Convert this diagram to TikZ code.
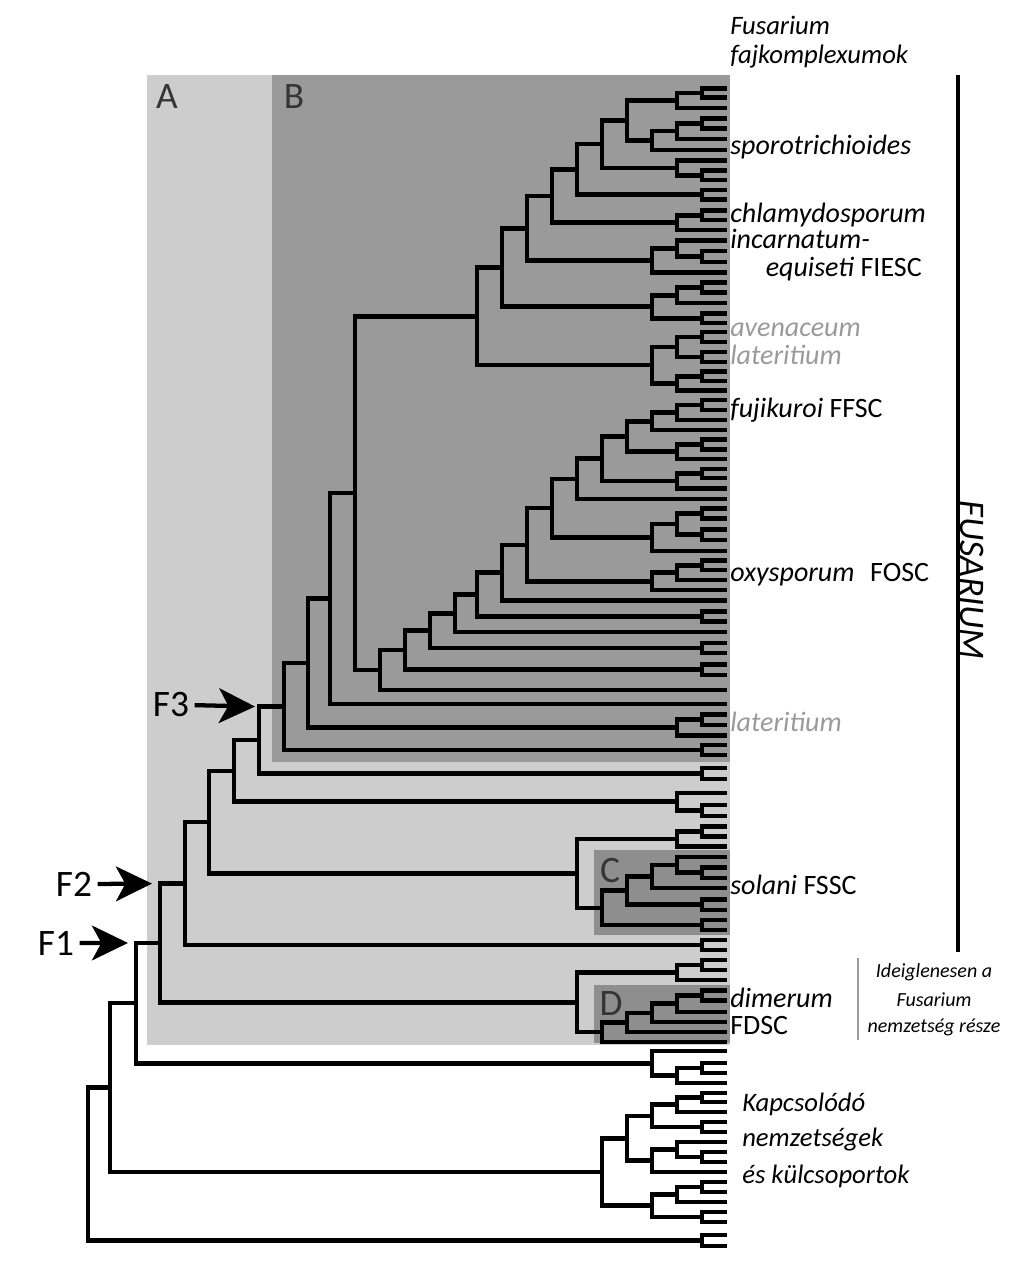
\documentclass[tikz,border=0pt]{standalone}
\usepackage{fontspec}
\setmainfont{Carlito}
\usetikzlibrary{calc, arrows.meta, positioning}
\definecolor{aback}{HTML}{CDCDCD}
\definecolor{bback}{HTML}{9A9A9A}
\definecolor{cback}{HTML}{8E8E8E}
\definecolor{letter}{HTML}{353535}
\definecolor{lgray}{HTML}{9A9A9A}

% bracket: name, x, upper child, lower child
\newcommand{\clade}[4]{%
	\coordinate (#1x) at (#2,0);
	\coordinate (#1m) at ($(#3)!0.5!(#4)$);
	\coordinate (#1) at (#1x |- #1m);
	\draw[branch] (#3) -| (#1) |- (#4);
}

\begin{document}
\begin{tikzpicture}[x=0.75pt, y=-0.75pt,
	branch/.style={line width=3.4pt},
	lab/.style={anchor=west, inner sep=0pt, font=\fontsize{21}{23}\selectfont},
	note/.style={anchor=west, inner sep=0pt, font=\fontsize{20}{22}\selectfont\itshape},
	small/.style={inner sep=0pt, font=\fontsize{15}{17}\selectfont\itshape},
	boxletter/.style={text=letter, inner sep=0pt, font=\fontsize{28}{30}\selectfont},
	flab/.style={inner sep=0pt, font=\fontsize{28}{30}\selectfont},
	farrow/.style={line width=3.2pt, shorten <=4pt, -{Stealth[length=27pt, width=26pt, inset=7pt]}}]
	\useasboundingbox (0,0) rectangle (1024,1270);
	
	% shaded groups
	\fill[aback] (147,75) rectangle (730,1045);
	\fill[bback] (272,75) rectangle (730,762);
	\fill[cback] (594,850) rectangle (730,935);
	\fill[cback] (594,985) rectangle (730,1043);
	
	% tips
	\foreach \y [count=\i] in {88.3,97.3,108,118.3,128.3,139,150,160.5,170.5,180,
		190,199.5,210.5,220,230,240.5,251,262,272.5,282.5,
		292.5,303,313.5,323,332,342,352,362,371.5,381,
		390.5,400,410,420,430,439.5,449.5,459,469,478,
		488.5,499,508.5,518.5,529.5,540,551,560.5,570,580,
		590,600.5,611.5,621.5,632,643,653,664.5,675,690,
		704,714.5,725,735.5,745,755,768,779,793,805,
		816,826.5,836.5,846.5,857,867.5,878,888,899.5,910,
		920,930,940,950,960,970,980,990.5,1000.5,1012,
		1022,1032,1042,1051,1063,1073,1083,1093,1102,1112,
		1122,1132,1142,1152,1162,1172,1182,1192,1202,1212,
		1222,1235,1246}{
		\coordinate (t\i) at (727,\y);
	}
	
	% sporotrichioides
	\clade{s1}{702}{t1}{t2}
	\clade{s2}{677}{s1}{t3}
	\clade{s3}{702}{t4}{t5}
	\clade{s4}{677}{s3}{t6}
	\clade{s5}{652}{s4}{t7}
	\clade{s6}{627}{s2}{s5}
	\clade{s7}{702}{t9}{t10}
	\clade{s8}{677}{t8}{s7}
	\clade{s9}{602}{s6}{s8}
	\clade{s10}{702}{t11}{t12}
	\clade{spo}{577}{s9}{s10}
	% chlamydosporum, incarnatum
	\clade{ch1}{702}{t13}{t14}
	\clade{chl}{677}{ch1}{t15}
	\clade{sc}{552}{spo}{chl}
	\clade{i1}{702}{t17}{t18}
	\clade{i2}{677}{t16}{i1}
	\clade{inc}{652}{i2}{t19}
	\clade{sci}{527}{sc}{inc}
	% avenaceum, lateritium
	\clade{a1}{702}{t20}{t21}
	\clade{a2}{677}{a1}{t22}
	\clade{a3}{702}{t23}{t24}
	\clade{ave}{652}{a2}{a3}
	\clade{scia}{502}{sci}{ave}
	\clade{l1}{702}{t25}{t26}
	\clade{l2}{702}{t27}{t28}
	\clade{l3}{677}{l1}{l2}
	\clade{l4}{702}{t29}{t30}
	\clade{l5}{677}{l4}{t31}
	\clade{lat}{652}{l3}{l5}
	\clade{top}{477}{scia}{lat}
	% fujikuroi
	\clade{f1}{702}{t32}{t33}
	\clade{f2}{677}{f1}{t34}
	\clade{f3}{652}{f2}{t35}
	\clade{f4}{702}{t36}{t37}
	\clade{f5}{677}{f4}{t38}
	\clade{fuj}{627}{f3}{f5}
	\clade{g1}{702}{t39}{t40}
	\clade{g2}{677}{g1}{t41}
	\clade{fg}{602}{fuj}{g2}
	\clade{fgt}{577}{fg}{t42}
	% oxysporum and the ladder
	\clade{o1}{702}{t43}{t44}
	\clade{o2}{702}{t45}{t46}
	\clade{o3}{677}{o1}{o2}
	\clade{o4}{652}{o3}{t47}
	\clade{st1}{552}{fgt}{o4}
	\clade{o5}{702}{t48}{t49}
	\clade{o6}{677}{o5}{t50}
	\clade{oxy}{652}{o6}{t51}
	\clade{st2}{527}{st1}{oxy}
	\clade{st3}{502}{st2}{t52}
	\clade{p1}{702}{t53}{t54}
	\clade{st4}{477}{st3}{p1}
	\clade{st5}{455}{st4}{t55}
	\clade{p2}{702}{t56}{t57}
	\clade{st6}{430}{st5}{p2}
	\clade{p3}{702}{t58}{t59}
	\clade{st7}{405}{st6}{p3}
	\clade{st8}{380}{st7}{t60}
	\clade{b1}{355}{top}{st8}
	\clade{b2}{330}{b1}{t61}
	\clade{la1}{702}{t62}{t63}
	\clade{la2}{677}{la1}{t64}
	\clade{b3}{308}{b2}{la2}
	\clade{p4}{702}{t65}{t66}
	\clade{bro}{284}{b3}{p4}
	\clade{p5}{702}{t67}{t68}
	\clade{nF3}{259}{bro}{p5}
	\clade{q1}{702}{t70}{t71}
	\clade{q2}{677}{t69}{q1}
	\clade{n19}{234}{nF3}{q2}
	% solani
	\clade{r1}{702}{t72}{t73}
	\clade{r2}{677}{r1}{t74}
	\clade{cc1}{702}{t76}{t77}
	\clade{cc2}{677}{t75}{cc1}
	\clade{cc3}{652}{cc2}{t78}
	\clade{cc4}{702}{t79}{t80}
	\clade{cc5}{627}{cc3}{cc4}
	\clade{cc6}{702}{t81}{t82}
	\clade{sol}{602}{cc5}{cc6}
	\clade{rc}{577}{r2}{sol}
	\clade{n20}{209}{n19}{rc}
	\clade{p6}{702}{t83}{t84}
	\clade{nF2}{185}{n20}{p6}
	% dimerum
	\clade{d1}{702}{t85}{t86}
	\clade{d2}{677}{d1}{t87}
	\clade{dd1}{702}{t88}{t89}
	\clade{dd2}{677}{dd1}{t90}
	\clade{dd3}{652}{dd2}{t91}
	\clade{dd4}{627}{dd3}{t92}
	\clade{dim}{602}{dd4}{t93}
	\clade{rd}{577}{d2}{dim}
	\clade{nF1}{160}{nF2}{rd}
	\clade{k1}{702}{t95}{t96}
	\clade{k2}{677}{k1}{t97}
	\clade{k3}{652}{t94}{k2}
	\clade{n24}{136}{nF1}{k3}
	% related genera and outgroups
	\clade{h1}{702}{t98}{t99}
	\clade{h2}{677}{h1}{t100}
	\clade{h3}{702}{t101}{t102}
	\clade{h4}{652}{h2}{h3}
	\clade{h5}{702}{t104}{t105}
	\clade{h6}{677}{t103}{h5}
	\clade{h7}{652}{h6}{t106}
	\clade{h8}{627}{h4}{h7}
	\clade{h9}{702}{t107}{t108}
	\clade{h10}{677}{h9}{t109}
	\clade{h11}{702}{t110}{t111}
	\clade{h12}{652}{h10}{h11}
	\clade{kap}{602}{h8}{h12}
	\clade{n25}{110}{n24}{kap}
	\clade{p7}{702}{t112}{t113}
	\clade{root}{88}{n25}{p7}
	
	% group letters
	\node[boxletter] (lA) at (167,97) {A};
	\node[boxletter] (lB) at (294,97) {B};
	\node[boxletter] (lC) at (610,871) {C};
	\node[boxletter] (lD) at (611,1004) {D};
	
	% F arrows
	\node[flab] (F3) at (171,705) {F3};
	\node[flab] (F2) at (74,884) {F2};
	\node[flab] (F1) at (56,943) {F1};
	\draw[farrow] (F3.east) -- ($(bro)+(-29,0)$);
	\draw[farrow] (F2.east) -- ($(nF2)+(-33,0)$);
	\draw[farrow] (F1.east) -- ($(nF1)+(-32,0)$);
	
	% complex names
	\node[note] (hd1) at (730,25) {Fusarium};
	\node[note] (hd2) at (730,57) {fajkomplexumok};
	\node[lab] (nspo) at (730,147) {\textit{sporotrichioides}};
	\node[lab] (nchl) at (730,215) {\textit{chlamydosporum}};
	\node[lab] (ninc) at (730,239) {\textit{incarnatum-}};
	\node[lab, anchor=east] (nequ) at (922,269) {\textit{equiseti} FIESC};
	\node[lab, text=lgray] (nave) at (730,330) {\textit{avenaceum}};
	\node[lab, text=lgray] (nlat) at (730,355) {\textit{lateritium}};
	\node[lab] (nfuj) at (730,410) {\textit{fujikuroi} FFSC};
	\node[lab] (noxy) at (730,575) {\textit{oxysporum}\hspace{7pt} FOSC};
	\node[lab, text=lgray] (nlat2) at (730,722) {\textit{lateritium}};
	\node[lab] (nsol) at (730,885) {\textit{solani} FSSC};
	\node[lab] (ndim) at (730,998) {\textit{dimerum}};
	\node[lab] (nfds) at (730,1025) {FDSC};
	\node[note] (nk1) at (742,1104) {Kapcsolódó};
	\node[note] (nk2) at (742,1140) {nemzetségek};
	\node[note] (nk3) at (742,1176) {és külcsoportok};
	
	% genus bar
	\coordinate (fbar1) at (958,75);
	\coordinate (fbar2) at (958,952);
	\draw[line width=2.6pt] (fbar1) -- (fbar2);
	\node[rotate=-90, inner sep=0pt, font=\fontsize{27}{29}\selectfont\itshape] (fus) at (972,580) {FUSARIUM};
	\coordinate (gbar1) at (858,958);
	\coordinate (gbar2) at (858,1040);
	\draw[line width=1.6pt, lgray] (gbar1) -- (gbar2);
	\node[small] (id1) at (934,972) {Ideiglenesen a};
	\node[small] (id2) at (934,1000) {Fusarium};
	\node[small] (id3) at (934,1027) {nemzetség része};
\end{tikzpicture}
\end{document}
